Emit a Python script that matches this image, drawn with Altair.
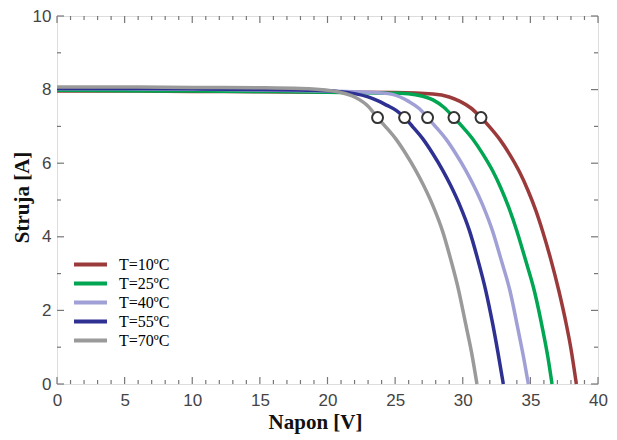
import altair as alt
import pandas as pd

series = ["T=10ºC", "T=25ºC", "T=40ºC", "T=55ºC", "T=70ºC"]
colors = ["#9b3a3a", "#00a651", "#a0a0d6", "#2e3192", "#9a9a9a"]

v10 = [0, 5, 10, 15, 20, 25, 27.8, 29.0, 29.8, 30.6, 31.35, 32.0, 32.75, 33.5, 34.2, 34.8, 35.4, 35.9, 36.5, 37.1, 37.6, 38.0, 38.4]
i10 = [7.96, 7.96, 7.95, 7.94, 7.93, 7.92, 7.88, 7.80, 7.68, 7.50, 7.24, 6.98, 6.64, 6.22, 5.76, 5.28, 4.72, 4.16, 3.40, 2.54, 1.72, 0.96, 0.0]

v25 = [0, 5, 10, 15, 20, 25.4, 26.5, 27.8, 28.6, 29.35, 30.0, 30.75, 31.5, 32.2, 32.8, 33.4, 34.0, 34.65, 35.3, 35.9, 36.3, 36.6]
i25 = [7.98, 7.97, 7.96, 7.95, 7.93, 7.90, 7.86, 7.72, 7.52, 7.24, 6.98, 6.65, 6.24, 5.80, 5.34, 4.80, 4.16, 3.36, 2.52, 1.50, 0.72, 0.0]

v40 = [0, 5, 10, 15, 20, 22, 24, 24.8, 26.0, 26.8, 27.4, 28.0, 28.75, 29.5, 30.2, 30.8, 31.5, 32.2, 32.85, 33.5, 34.05, 34.5, 34.85]
i40 = [8.02, 8.02, 8.01, 7.99, 7.96, 7.94, 7.91, 7.87, 7.68, 7.48, 7.24, 6.99, 6.66, 6.25, 5.82, 5.40, 4.84, 4.16, 3.36, 2.52, 1.55, 0.72, 0.0]

v55 = [0, 5, 10, 15, 19, 20.7, 22, 23, 23.7, 24.4, 25.1, 25.7, 26.3, 27.05, 27.8, 28.5, 29.1, 29.8, 30.5, 31.1, 31.7, 32.2, 32.6, 33.0]
i55 = [8.03, 8.03, 8.02, 8.00, 7.98, 7.95, 7.89, 7.80, 7.70, 7.57, 7.43, 7.24, 6.99, 6.66, 6.25, 5.82, 5.40, 4.84, 4.16, 3.40, 2.54, 1.66, 0.86, 0.0]

v70 = [0, 5, 10, 15, 18, 20, 21, 22, 23, 23.7, 24.3, 25.05, 25.8, 26.5, 27.1, 27.8, 28.5, 29.1, 29.7, 30.2, 30.65, 31.05]
i70 = [8.07, 8.07, 8.06, 8.05, 8.03, 7.98, 7.92, 7.80, 7.55, 7.24, 6.99, 6.66, 6.25, 5.82, 5.40, 4.84, 4.16, 3.40, 2.54, 1.66, 0.86, 0.0]

mpp_v = [31.35, 29.35, 27.4, 25.7, 23.7]
mpp_i = [7.24, 7.24, 7.24, 7.24, 7.24]

x_major = [0, 5, 10, 15, 20, 25, 30, 35, 40]
x_minor = [1, 2, 3, 4, 6, 7, 8, 9, 11, 12, 13, 14, 16, 17, 18, 19, 21, 22, 23, 24,
           26, 27, 28, 29, 31, 32, 33, 34, 36, 37, 38, 39]
y_major = [0, 2, 4, 6, 8, 10]
y_minor = [1, 3, 5, 7, 9]

W, H = 541, 368

rows = []
for name, vs, is_ in zip(series, [v10, v25, v40, v55, v70], [i10, i25, i40, i55, i70]):
    for k, (v, i) in enumerate(zip(vs, is_)):
        rows.append({"T": name, "V": v, "I": i, "k": k})
df = pd.DataFrame(rows)
mpp = pd.DataFrame({"V": mpp_v, "I": mpp_i})

xs = alt.Scale(domain=[0, 40], nice=False)
ys = alt.Scale(domain=[0, 10], nice=False)

lines = alt.Chart(df).mark_line(strokeWidth=3.5, interpolate="monotone").encode(
    x=alt.X("V:Q", scale=xs, axis=alt.Axis(
        values=x_major, ticks=False, domain=False, grid=False, labelFlush=False,
        labelFont="Liberation Sans", labelFontSize=17, labelColor="#444444", labelPadding=8,
        title="Napon [V]", titleFont="Liberation Serif", titleFontSize=21,
        titleFontWeight="bold", titleColor="#111111", titleX=258, titleY=38,
        titleBaseline="middle")),
    y=alt.Y("I:Q", scale=ys, axis=alt.Axis(
        values=y_major, ticks=False, domain=False, grid=False, labelFlush=False,
        labelFont="Liberation Sans", labelFontSize=17, labelColor="#444444", labelPadding=6,
        title="Struja [A]", titleFont="Liberation Serif", titleFontSize=21,
        titleFontWeight="bold", titleColor="#111111", titleX=-35, titleY=181,
        titleBaseline="middle")),
    color=alt.Color("T:N", scale=alt.Scale(domain=series, range=colors), legend=alt.Legend(
        title=None, orient="none", legendX=23, legendY=238, symbolType="M-2,0H2",
        symbolSize=272, symbolStrokeWidth=4, labelFont="Liberation Serif",
        labelFontSize=16, labelColor="#000000", labelOffset=18, rowPadding=0, padding=0)),
    order="k:Q",
    detail="T:N",
)

points = alt.Chart(mpp).mark_point(filled=True, fill="white", stroke="#333333",
                                   strokeWidth=2, size=120, opacity=1).encode(
    x=alt.X("V:Q", scale=xs), y=alt.Y("I:Q", scale=ys))

tick_color = "#777777"
xmaj = pd.DataFrame({"v": x_major})
xmin = pd.DataFrame({"v": x_minor})
ymaj = pd.DataFrame({"v": y_major})
ymin = pd.DataFrame({"v": y_minor})

def xticks(d, length):
    b = alt.Chart(d).mark_rule(color=tick_color, strokeWidth=1.2).encode(
        x=alt.X("v:Q", scale=xs), y=alt.value(H), y2=alt.value(H - length))
    t = alt.Chart(d).mark_rule(color=tick_color, strokeWidth=1.2).encode(
        x=alt.X("v:Q", scale=xs), y=alt.value(0), y2=alt.value(length))
    return [b, t]

def yticks(d, length):
    l = alt.Chart(d).mark_rule(color=tick_color, strokeWidth=1.2).encode(
        y=alt.Y("v:Q", scale=ys), x=alt.value(0), x2=alt.value(length))
    r = alt.Chart(d).mark_rule(color=tick_color, strokeWidth=1.2).encode(
        y=alt.Y("v:Q", scale=ys), x=alt.value(W), x2=alt.value(W - length))
    return [l, r]

layers = xticks(xmaj, 7) + xticks(xmin, 4) + yticks(ymaj, 7) + yticks(ymin, 4) + [lines, points]

chart = alt.layer(*layers).properties(
    width=W, height=H,
    autosize=alt.AutoSizeParams(type="none"),
    padding={"left": 49, "top": 8, "right": 11, "bottom": 50},
).configure_view(stroke="#808080", strokeWidth=2).configure(background="white")

chart.save("out.html", embed_options={"renderer": "svg", "actions": False})
